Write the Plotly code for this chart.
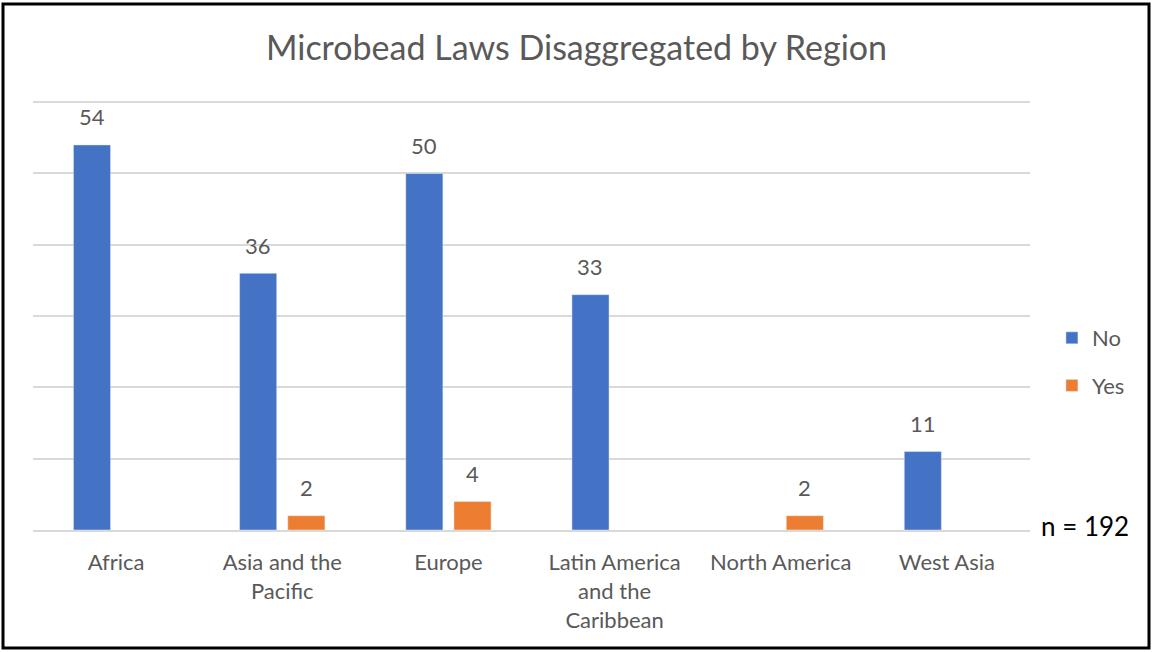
import plotly.graph_objects as go

regions = ["Africa", "Asia and the<br>Pacific", "Europe", "Latin America<br>and the<br>Caribbean", "North America", "West Asia"]
no_vals = [54, 36, 50, 33, None, 11]
yes_vals = [None, 2, 4, None, 2, None]

FONT = "Lato"
TXT = "#595959"
BARGAP = 0.42
PLOT_H = 652 - 95 - 122

fig = go.Figure()
fig.add_trace(go.Bar(name="No", x=regions, y=no_vals, marker_color="#4472C4", legendgroup="No"))
fig.add_trace(go.Bar(name="Yes", x=regions, y=yes_vals, marker_color="#ED7D31", legendgroup="Yes"))

# data labels, positioned on the category axis by index +/- half slot
half_slot = (1 - BARGAP) / 4
for vals, off in ((no_vals, -half_slot), (yes_vals, half_slot)):
    for i, v in enumerate(vals):
        if v is None:
            continue
        fig.add_annotation(x=i + off, y=v, text=str(v), showarrow=False, yshift=28,
                           xanchor="center", yanchor="middle",
                           font=dict(size=22, color=TXT, family=FONT))

fig.update_layout(
    width=1153, height=652,
    margin=dict(l=33, r=123, t=95, b=122),
    paper_bgcolor="white", plot_bgcolor="white",
    barmode="group", bargap=BARGAP, bargroupgap=0.23,
    font=dict(family=FONT, color=TXT, size=22),
    title=dict(text="Microbead Laws Disaggregated by Region", x=0.5, xref="container", xanchor="center",
               y=1 - 48 / 652, yref="container", yanchor="middle",
               font=dict(size=34, color=TXT, family=FONT)),
    showlegend=True,
    legend=dict(x=1.022, xanchor="left", y=(530 - 362) / PLOT_H, yanchor="middle", tracegroupgap=16,
                font=dict(size=22, color=TXT, family=FONT), bgcolor="rgba(0,0,0,0)"),
    xaxis=dict(showline=True, linecolor="#D9D9D9", linewidth=2, ticks="", ticklabelstandoff=12,
               tickfont=dict(size=22, color=TXT, family=FONT)),
    yaxis=dict(range=[0, 61], dtick=10, showgrid=True, gridcolor="#D9D9D9", gridwidth=2,
               showticklabels=False, zeroline=False, fixedrange=True),
)

fig.add_annotation(text="n = 192", xref="paper", yref="paper", x=(1085 - 33) / 997, y=(530 - 526) / PLOT_H,
                   xanchor="center", yanchor="middle", showarrow=False,
                   font=dict(size=26, color="#000000", family=FONT))

fig.add_shape(type="rect", xref="paper", yref="paper",
              x0=(3 - 33) / 997, x1=(1149 - 33) / 997,
              y0=(530 - 648) / PLOT_H, y1=(530 - 4) / PLOT_H,
              line=dict(color="black", width=3), fillcolor="rgba(0,0,0,0)")

fig.write_html("out.html")
